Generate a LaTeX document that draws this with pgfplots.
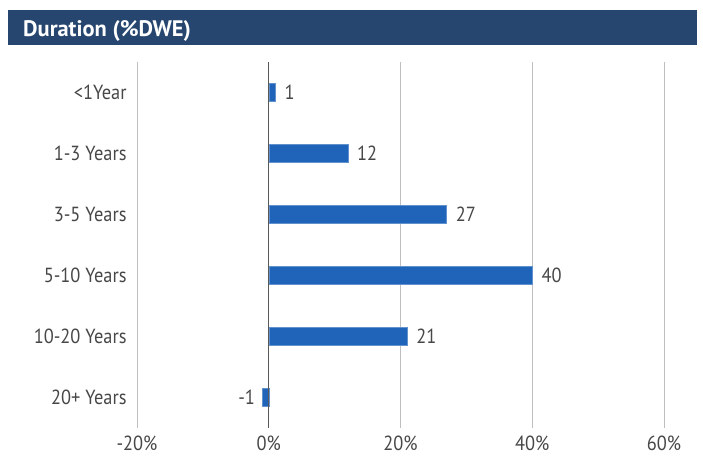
\documentclass[border=0pt]{standalone}
\usepackage{fontspec}
\setmainfont{PT Sans}
\newfontfamily\lab{PT Sans}[FakeStretch=0.9]
\usepackage{pgfplots}
\pgfplotsset{compat=1.18}
\definecolor{barblue}{HTML}{1F64B9}
\definecolor{titlebg}{HTML}{26466F}
\definecolor{txt}{HTML}{474747}
\definecolor{gridc}{HTML}{BFBFBF}
\definecolor{zeroc}{HTML}{595959}
\begin{document}
\begin{tikzpicture}[x=1bp,y=1bp]
\useasboundingbox (-137,-28) rectangle (566,428);
\fill[titlebg] (-129,383) rectangle (560,418);
\node[anchor=base west, text=white, font=\fontsize{22.5}{26}\selectfont\bfseries, inner sep=0pt] at (-114,391) {Duration (\%DWE)};
\begin{axis}[at={(0,0)}, anchor=south west, scale only axis,
  width=527bp, height=366bp,
  xmin=-20, xmax=60, ymin=-0.5, ymax=5.5, y dir=reverse,
  xbar, bar width=18bp, bar shift=0pt,
  axis line style={draw=none}, major tick style={draw=none},
  xmajorgrids, grid style={gridc, line width=0.8pt},
  xtick={-20,0,20,40,60},
  xticklabels={-20\%,0\%,20\%,40\%,60\%},
  ytick={0,1,2,3,4,5},
  yticklabels={<1Year,1-3 Years,3-5 Years,5-10 Years,10-20 Years,20+ Years},
  tick label style={font=\lab\fontsize{20.5}{24}\selectfont, text=txt},
  yticklabel style={xshift=-6bp, inner sep=0pt},
  xticklabel style={inner sep=0pt, anchor=north, yshift=-8bp},
  nodes near coords,
  every node near coord/.append style={font=\lab\fontsize{20.5}{24}\selectfont, text=txt, inner sep=0pt},
  point meta=explicit symbolic,
  clip=false,
]
\addplot[fill=barblue, draw=barblue!70!white, line width=0.5pt,
  every node near coord/.append style={anchor=west, xshift=9bp}] coordinates {
(1,0) [1] (12,1) [12] (27,2) [27] (40,3) [40] (21,4) [21]};
\addplot[fill=barblue, draw=barblue!70!white, line width=0.5pt,
  every node near coord/.append style={anchor=east, xshift=-7bp}] coordinates {
(-1,5) [-1]};
\draw[zeroc, line width=1.2pt] (axis cs:0,-0.5) -- (axis cs:0,5.5);
\end{axis}
\end{tikzpicture}
\end{document}
